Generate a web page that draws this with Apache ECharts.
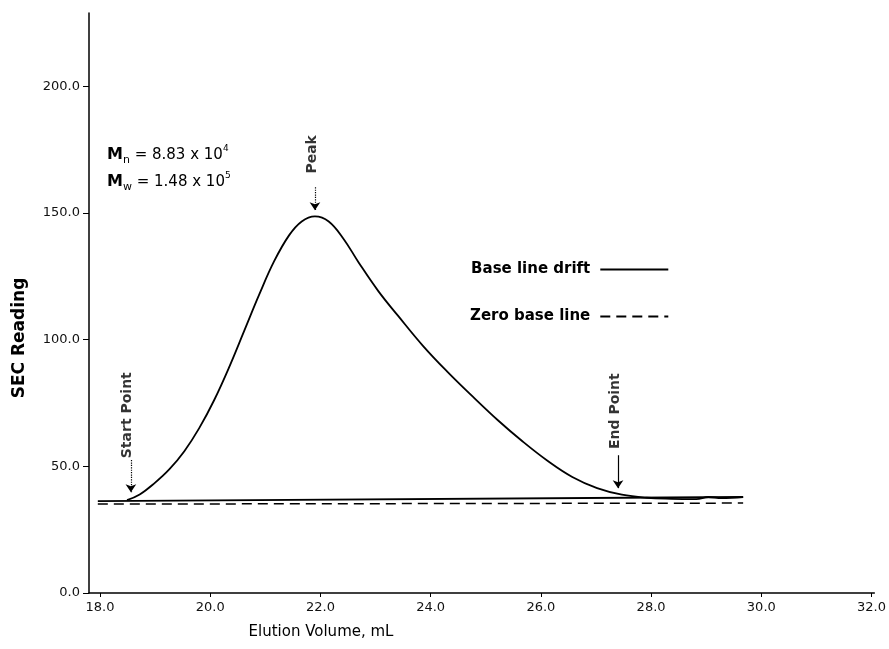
<!DOCTYPE html>
<html>
<head>
<meta charset="utf-8">
<script src="https://cdn.jsdelivr.net/npm/echarts@6/dist/echarts.min.js"></script>
<style>
html, body { margin: 0; padding: 0; background: #fff; }
#main { width: 889px; height: 649px; }
</style>
</head>
<body>
<div id="main"></div>
<script>
// SEC elution curve: values
var xTicks = [18, 20, 22, 24, 26, 28, 30, 32];
var yTicks = [0, 50, 100, 150, 200];

var peakX = [18.49, 18.72, 18.99, 19.26, 19.53, 19.80, 20.07, 20.35, 20.62, 20.89, 21.16, 21.43, 21.66, 21.90,
    22.15, 22.42, 22.69, 23.05, 23.41, 23.86, 24.31, 24.77, 25.22, 25.67, 26.12, 26.57, 27.02, 27.47, 27.92,
    28.37, 28.82, 29.04, 29.28, 29.67];
var peakY = [36.7, 38.9, 43.4, 48.9, 56.0, 65.1, 76.1, 89.5, 103.7, 117.9, 131.0, 141.2, 146.7, 148.7,
    146.7, 139.8, 130.6, 119.2, 109.4, 97.6, 87.2, 77.4, 68.2, 59.8, 52.2, 45.8, 41.4, 38.8, 37.6,
    37.2, 37.1, 37.9, 37.5, 37.9];

var driftX = [17.96, 29.67];
var driftY = [36.3, 37.9];
var zeroX = [17.96, 29.67];
var zeroY = [35.1, 35.5];

var noteNames = ['Start Point', 'Peak', 'End Point'];
var noteX = [18.50, 21.86, 27.35];
var noteY = [70.2, 173.2, 71.8];
var arrowX = [18.56, 21.90, 27.40];
var arrowFrom = [52.5, 160.2, 54.4];
var arrowTo = [39.8, 151.1, 41.4];
var arrowType = ['dotted', 'dotted', 'solid'];

function pairs(xs, ys) {
    var out = [];
    for (var i = 0; i < xs.length; i++) out.push([xs[i], ys[i]]);
    return out;
}

var arrows = [];
var notes = [];
for (var i = 0; i < noteNames.length; i++) {
    arrows.push([
        { coord: [arrowX[i], arrowFrom[i]], lineStyle: { type: arrowType[i] } },
        { coord: [arrowX[i], arrowTo[i]] }
    ]);
    notes.push({ name: noteNames[i], value: [noteX[i], noteY[i]] });
}

var tickFont = 'DejaVu Sans';

// rich styles for M_n / M_w with sub- and superscripts
var molRich = {
    m: { fontSize: 16, fontWeight: 'bold', fontFamily: tickFont, lineHeight: 22, verticalAlign: 'middle' },
    s: { fontSize: 11, fontFamily: tickFont, lineHeight: 22, verticalAlign: 'bottom' },
    t: { fontSize: 15, fontFamily: tickFont, lineHeight: 22, verticalAlign: 'middle' },
    p: { fontSize: 9, fontFamily: tickFont, lineHeight: 22, verticalAlign: 'top' }
};

var myChart = echarts.init(document.getElementById('main'));
var option = {
    animation: false,
    backgroundColor: '#fff',
    grid: { left: 89, right: 10, top: 13, bottom: 56 },
    legend: {
        data: ['Base line drift', 'Zero base line'],
        orient: 'vertical',
        left: 465,
        top: 257,
        align: 'right',
        itemWidth: 68,
        itemHeight: 14,
        itemGap: 32,
        selectedMode: false,
        itemStyle: { opacity: 0 },
        textStyle: { color: '#000', fontSize: 15, fontWeight: 'bold', fontFamily: tickFont, padding: [0, 5, 0, 0] }
    },
    xAxis: {
        type: 'value',
        min: 17.8,
        max: 32.05,
        axisLine: { onZero: false, lineStyle: { color: '#000', width: 1.5 } },
        axisTick: { customValues: xTicks, length: 4, lineStyle: { color: '#000' } },
        axisLabel: {
            customValues: xTicks, margin: 8, color: '#111', fontSize: 13, fontFamily: tickFont,
            formatter: function (v) { return v.toFixed(1); }
        },
        splitLine: { show: false }
    },
    yAxis: {
        type: 'value',
        min: 0,
        max: 229,
        axisLine: { show: true, lineStyle: { color: '#000', width: 1.5 } },
        axisTick: { show: true, customValues: yTicks, length: 6, lineStyle: { color: '#000' } },
        axisLabel: {
            customValues: yTicks, margin: 9, color: '#111', fontSize: 13, fontFamily: tickFont,
            formatter: function (v) { return v.toFixed(1); }
        },
        splitLine: { show: false }
    },
    graphic: [
        {
            type: 'text', x: 20, y: 338, rotation: Math.PI / 2,
            style: { text: 'SEC Reading', fill: '#000', font: 'bold 17px "DejaVu Sans"', align: 'center', verticalAlign: 'middle' }
        },
        {
            type: 'text', x: 321, y: 632,
            style: { text: 'Elution Volume, mL', fill: '#000', font: '15px "DejaVu Sans"', align: 'center', verticalAlign: 'middle' }
        },
        {
            type: 'text', x: 107, y: 155,
            style: { text: '{m|M}{s|n}{t| = 8.83 x 10}{p|4}', align: 'left', verticalAlign: 'middle', fill: '#000', rich: molRich }
        },
        {
            type: 'text', x: 107, y: 182,
            style: { text: '{m|M}{s|w}{t| = 1.48 x 10}{p|5}', align: 'left', verticalAlign: 'middle', fill: '#000', rich: molRich }
        }
    ],
    series: [
        {
            name: 'SEC curve',
            type: 'line',
            data: pairs(peakX, peakY),
            smooth: 0.4,
            showSymbol: false,
            lineStyle: { color: '#000', width: 1.8 },
            markLine: {
                silent: true,
                symbol: ['none', 'arrow'],
                symbolSize: 8,
                label: { show: false },
                lineStyle: { color: '#000', width: 1.2 },
                data: arrows
            },
            z: 3
        },
        {
            name: 'Base line drift',
            type: 'line',
            data: pairs(driftX, driftY),
            symbol: 'none',
            itemStyle: { color: '#000' },
            lineStyle: { color: '#000', width: 1.8 }
        },
        {
            name: 'Zero base line',
            type: 'line',
            data: pairs(zeroX, zeroY),
            symbol: 'none',
            itemStyle: { color: '#000' },
            lineStyle: { color: '#000', width: 1.5, type: [10, 6] }
        },
        {
            name: 'notes',
            type: 'scatter',
            data: notes,
            symbolSize: 0,
            silent: true,
            label: {
                show: true, position: 'inside', rotate: 90, formatter: '{b}',
                color: '#000', fontSize: 14, fontWeight: 'bold', fontFamily: tickFont
            }
        }
    ]
};
myChart.setOption(option);

window.onresize = function () {
    myChart.resize();
};
</script>
</body>
</html>
